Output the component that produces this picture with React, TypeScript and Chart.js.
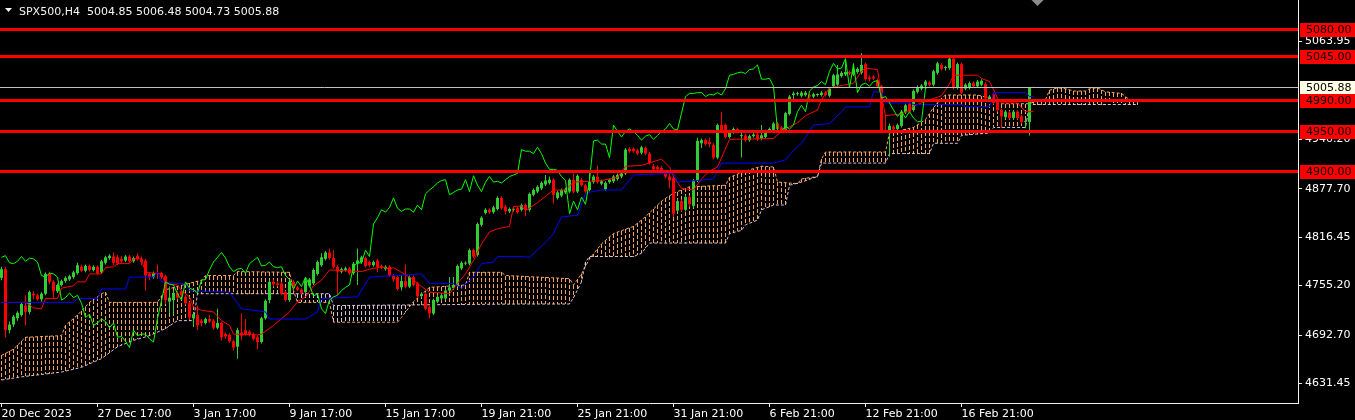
import { useEffect, useRef } from "react";
import { Chart, registerables } from "chart.js";

Chart.register(...registerables);

// SPX500 H4 candles, bar 0 = 20 Dec 2023
const opens = [
  4765, 4776, 4699, 4706, 4714, 4718, 4730, 4722, 4745, 4743,
  4738, 4745, 4770, 4760, 4748, 4756, 4761, 4763, 4766, 4771,
  4779, 4774, 4780, 4775, 4779, 4772, 4784, 4790, 4792, 4791,
  4789, 4787, 4792, 4786, 4793, 4789, 4787, 4770, 4766, 4771,
  4771, 4767, 4735, 4737, 4746, 4748, 4741, 4733, 4714, 4718,
  4711, 4708, 4713, 4711, 4702, 4708, 4694, 4693, 4685, 4678,
  4696, 4699, 4697, 4694, 4690, 4684, 4714, 4737, 4760, 4758,
  4758, 4747, 4737, 4760, 4753, 4750, 4747, 4755, 4758, 4770,
  4781, 4789, 4797, 4790, 4779, 4773, 4775, 4777, 4771, 4783,
  4785, 4790, 4785, 4781, 4787, 4780, 4776, 4779, 4768, 4766,
  4753, 4761, 4754, 4766, 4758, 4742, 4745, 4728, 4720, 4735,
  4739, 4739, 4749, 4752, 4756, 4777, 4783, 4783, 4800, 4794,
  4832, 4847, 4851, 4848, 4852, 4866, 4855, 4849, 4851, 4853,
  4851, 4857, 4851, 4870, 4874, 4878, 4883, 4885, 4889, 4866,
  4869, 4873, 4874, 4889, 4874, 4889, 4882, 4876, 4886, 4893,
  4884, 4877, 4886, 4887, 4890, 4893, 4897, 4928, 4928, 4926,
  4923, 4929, 4922, 4906, 4905, 4904, 4898, 4893, 4891, 4850,
  4862, 4851, 4867, 4856, 4888, 4935, 4939, 4937, 4933, 4917,
  4958, 4958, 4943, 4949, 4953, 4944, 4945, 4939, 4944, 4946,
  4941, 4943, 4950, 4952, 4960, 4955, 4952, 4972, 4996, 4997,
  4995, 4996, 4996, 4994, 4996, 4996, 4999, 4995, 5007, 5009,
  5020, 5022, 5025, 5022, 5025, 5024, 5035, 5018, 5019, 5015,
  5007, 4952, 4951, 4956, 4953, 4957, 4974, 4985, 4977, 5000,
  5004, 5008, 5012, 5009, 5024, 5034, 5030, 5030, 5042, 5005,
  5035, 5004, 5005, 5011, 5007, 5009, 5010, 4990, 4997, 4987,
  4977, 4968, 4974, 4967, 4975, 4969, 4962, 4962, 5004.85,
];

const highs = [
  4779, 4779, 4710, 4718, 4723, 4734, 4743, 4749, 4748, 4745,
  4747, 4772, 4773, 4762, 4758, 4763, 4767, 4769, 4774, 4784,
  4782, 4782, 4782, 4781, 4781, 4788, 4793, 4795, 4797, 4794,
  4793, 4794, 4794, 4792, 4796, 4792, 4789, 4772, 4773, 4782,
  4773, 4769, 4754, 4749, 4749, 4750, 4743, 4735, 4721, 4730,
  4713, 4715, 4718, 4713, 4726, 4710, 4696, 4695, 4687, 4702,
  4720, 4713, 4699, 4696, 4692, 4716, 4738, 4762, 4763, 4761,
  4760, 4749, 4762, 4762, 4755, 4752, 4765, 4765, 4777, 4787,
  4796, 4799, 4802, 4800, 4781, 4778, 4779, 4779, 4785, 4802,
  4793, 4792, 4787, 4787, 4789, 4782, 4781, 4781, 4770, 4768,
  4769, 4782, 4768, 4768, 4760, 4747, 4747, 4730, 4739, 4743,
  4745, 4751, 4766, 4766, 4782, 4786, 4786, 4802, 4802, 4835,
  4843, 4853, 4853, 4856, 4868, 4868, 4857, 4854, 4854, 4855,
  4859, 4859, 4873, 4878, 4882, 4887, 4895, 4893, 4891, 4875,
  4878, 4879, 4891, 4897, 4896, 4891, 4884, 4900, 4895, 4907,
  4889, 4887, 4891, 4895, 4897, 4899, 4929, 4930, 4930, 4928,
  4932, 4931, 4924, 4909, 4907, 4906, 4900, 4897, 4893, 4864,
  4864, 4869, 4869, 4890, 4942, 4941, 4941, 4942, 4935, 4960,
  4975, 4960, 4952, 4955, 4955, 4950, 4947, 4946, 4948, 4948,
  4958, 4952, 4955, 4962, 4962, 4957, 4975, 4996, 5000, 5000,
  5001, 5001, 4998, 4999, 4998, 5001, 5001, 5006, 5023, 5034,
  5026, 5040, 5027, 5036, 5031, 5049, 5037, 5021, 5021, 5017,
  5009, 4972, 4960, 4958, 4960, 4977, 4985, 4990, 5003, 5008,
  5010, 5015, 5014, 5028, 5038, 5036, 5033, 5044, 5046, 5037,
  5037, 5011, 5013, 5013, 5015, 5016, 5012, 4996, 4999, 4989,
  4979, 4977, 4976, 4977, 4977, 4971, 4965, 5006, 5006.48,
];

const lows = [
  4762, 4690, 4695, 4703, 4711, 4716, 4705, 4719, 4738, 4736,
  4735, 4743, 4757, 4739, 4746, 4754, 4759, 4761, 4764, 4769,
  4772, 4772, 4773, 4773, 4769, 4770, 4782, 4788, 4781, 4781,
  4784, 4785, 4784, 4784, 4787, 4781, 4749, 4762, 4764, 4764,
  4764, 4732, 4720, 4719, 4738, 4741, 4731, 4712, 4703, 4699,
  4704, 4706, 4708, 4700, 4700, 4686, 4688, 4683, 4673, 4663,
  4686, 4692, 4691, 4686, 4675, 4682, 4712, 4733, 4754, 4754,
  4743, 4735, 4735, 4750, 4748, 4744, 4745, 4753, 4756, 4768,
  4779, 4787, 4788, 4777, 4743, 4771, 4773, 4769, 4769, 4756,
  4783, 4778, 4779, 4779, 4772, 4776, 4774, 4766, 4760, 4749,
  4749, 4752, 4752, 4754, 4740, 4740, 4724, 4714, 4718, 4733,
  4737, 4737, 4747, 4750, 4754, 4775, 4781, 4781, 4790, 4792,
  4830, 4845, 4846, 4846, 4850, 4851, 4845, 4847, 4849, 4846,
  4849, 4843, 4849, 4868, 4872, 4876, 4881, 4883, 4859, 4864,
  4867, 4871, 4872, 4872, 4872, 4880, 4872, 4874, 4884, 4884,
  4882, 4875, 4884, 4885, 4888, 4891, 4895, 4923, 4923, 4920,
  4921, 4920, 4908, 4899, 4900, 4899, 4891, 4878, 4842, 4848,
  4849, 4849, 4855, 4854, 4886, 4929, 4932, 4930, 4915, 4915,
  4948, 4941, 4941, 4947, 4948, 4917, 4937, 4937, 4942, 4938,
  4939, 4941, 4948, 4950, 4951, 4950, 4949, 4970, 4990, 4995,
  4993, 4994, 4987, 4992, 4994, 4994, 4994, 4993, 5005, 5007,
  5018, 5020, 5021, 5020, 5023, 5022, 5014, 5013, 5015, 5005,
  4949, 4949, 4918, 4951, 4951, 4955, 4972, 4973, 4975, 4998,
  5002, 5006, 5007, 5007, 5022, 5027, 5027, 5028, 5003, 5003,
  4997, 5002, 5003, 5005, 5005, 5007, 4990, 4988, 4984, 4975,
  4954, 4966, 4965, 4965, 4965, 4960, 4954, 4945, 5004.73,
];

const closes = [
  4776, 4699, 4706, 4716, 4721, 4732, 4722, 4747, 4743, 4738,
  4745, 4770, 4760, 4748, 4756, 4761, 4765, 4767, 4772, 4781,
  4774, 4780, 4775, 4779, 4771, 4786, 4791, 4793, 4784, 4783,
  4786, 4792, 4786, 4790, 4789, 4785, 4768, 4766, 4771, 4770,
  4766, 4737, 4740, 4746, 4740, 4743, 4733, 4715, 4719, 4705,
  4708, 4713, 4710, 4702, 4708, 4690, 4691, 4685, 4677, 4699,
  4692, 4694, 4694, 4688, 4684, 4714, 4736, 4760, 4757, 4756,
  4745, 4737, 4760, 4752, 4750, 4746, 4762, 4763, 4775, 4785,
  4791, 4797, 4790, 4779, 4773, 4776, 4777, 4771, 4783, 4787,
  4791, 4780, 4781, 4785, 4779, 4778, 4779, 4768, 4763, 4751,
  4761, 4754, 4766, 4756, 4742, 4745, 4726, 4720, 4737, 4741,
  4743, 4749, 4753, 4756, 4780, 4784, 4784, 4800, 4792, 4833,
  4841, 4851, 4848, 4854, 4866, 4853, 4849, 4852, 4852, 4848,
  4857, 4851, 4871, 4876, 4880, 4885, 4888, 4889, 4870, 4873,
  4876, 4877, 4889, 4874, 4894, 4882, 4874, 4886, 4893, 4886,
  4887, 4885, 4889, 4893, 4895, 4897, 4927, 4925, 4925, 4922,
  4930, 4922, 4910, 4902, 4902, 4901, 4893, 4888, 4846, 4862,
  4851, 4867, 4858, 4888, 4938, 4939, 4934, 4934, 4917, 4958,
  4950, 4943, 4950, 4953, 4950, 4945, 4939, 4944, 4946, 4940,
  4945, 4950, 4953, 4960, 4953, 4952, 4973, 4994, 4998, 4998,
  4999, 4999, 4994, 4997, 4996, 4999, 4996, 5004, 5021, 5022,
  5024, 5025, 5023, 5028, 5029, 5034, 5016, 5016, 5017, 5007,
  4951, 4950, 4957, 4953, 4958, 4975, 4983, 4975, 5001, 5006,
  5008, 5013, 5009, 5026, 5036, 5029, 5030, 5042, 5005, 5035,
  4999, 5009, 5011, 5007, 5013, 5014, 4992, 4994, 4986, 4977,
  4969, 4975, 4967, 4975, 4967, 4962, 4963, 5004.9, 5005.88,
];

// Ichimoku lines, [bar, price] vertices
const tenkan = [
  [0, 4734], [6, 4734], [7, 4731], [8, 4727], [10, 4726], [11, 4739], [14, 4739], [15, 4752],
  [18, 4755], [19, 4760], [21, 4760], [22, 4770], [25, 4770], [26, 4778], [28, 4779], [29, 4783],
  [32, 4783], [33, 4789], [35, 4789], [36, 4772], [40, 4770], [41, 4758], [44, 4756], [45, 4749],
  [47, 4741], [48, 4728], [50, 4724], [53, 4722], [55, 4711], [57, 4705], [58, 4694], [64, 4693],
  [65, 4694], [68, 4705], [72, 4722], [74, 4735], [76, 4741], [78, 4755], [80, 4762], [82, 4775],
  [90, 4773], [92, 4776], [95, 4779], [97, 4776], [98, 4778], [102, 4766], [105, 4754], [107, 4747],
  [112, 4745], [114, 4758], [116, 4770], [118, 4787], [120, 4808], [122, 4823], [124, 4827], [127, 4830],
  [128, 4855], [130, 4856], [131, 4850], [134, 4860], [138, 4876], [141, 4876], [143, 4886], [150, 4888],
  [154, 4892], [156, 4906], [160, 4907], [165, 4915], [167, 4905], [168, 4893], [170, 4878], [173, 4876],
  [175, 4890], [177, 4900], [179, 4905], [182, 4940], [193, 4941], [195, 4950], [197, 4956], [199, 4961],
  [201, 4970], [204, 4977], [205, 4990], [207, 5005], [210, 5008], [213, 5011], [215, 5026], [216, 5030],
  [219, 5028], [220, 4995], [221, 4970], [225, 4972], [227, 4977], [228, 4982], [231, 4988], [235, 4995],
  [237, 5010], [238, 5021], [244, 5021], [245, 5017], [247, 5013], [248, 5003], [249, 4992], [250, 4986],
  [254, 4986], [256, 4975], [258, 4975],
];

const kijun = [
  [0, 4734], [18, 4734], [19, 4739], [24, 4739], [25, 4751], [31, 4751], [32, 4766], [38, 4766],
  [39, 4772], [40, 4760], [46, 4757], [47, 4749], [57, 4747], [60, 4726], [66, 4722], [67, 4713],
  [76, 4713], [79, 4722], [80, 4739], [89, 4741], [92, 4766], [105, 4770], [107, 4758], [113, 4758],
  [115, 4752], [118, 4766], [120, 4783], [123, 4785], [124, 4792], [130, 4792], [132, 4791], [136, 4810],
  [138, 4821], [140, 4842], [144, 4844], [146, 4872], [150, 4876], [155, 4876], [158, 4895], [168, 4897],
  [169, 4886], [174, 4888], [178, 4890], [180, 4910], [193, 4910], [196, 4914], [198, 4926], [200, 4935],
  [203, 4958], [207, 4960], [210, 4975], [211, 4981], [217, 4981], [218, 5000], [220, 5000], [221, 4986],
  [227, 4986], [228, 4984], [240, 4984], [241, 4981], [247, 4981], [248, 4999], [256, 4999], [257, 4994],
  [258, 4994],
];

const spanA = [
  [0, 4667], [3, 4675], [6, 4690], [15, 4692], [16, 4705], [19, 4718], [22, 4734], [25, 4745],
  [26, 4747], [27, 4734], [39, 4734], [41, 4750], [46, 4757], [50, 4762], [51, 4768], [58, 4768],
  [59, 4773], [72, 4772], [73, 4749], [74, 4734], [82, 4734], [83, 4709], [99, 4709], [100, 4715],
  [103, 4735], [107, 4753], [116, 4756], [117, 4772], [125, 4772], [126, 4768], [142, 4764], [143, 4756],
  [145, 4770], [147, 4789], [150, 4808], [153, 4821], [158, 4830], [160, 4838], [162, 4847], [165, 4862],
  [168, 4872], [172, 4880], [181, 4882], [182, 4892], [186, 4900], [190, 4906], [193, 4905], [194, 4886],
  [199, 4884], [200, 4890], [204, 4893], [205, 4915], [206, 4924], [221, 4924], [222, 4948], [228, 4955],
  [231, 4965], [233, 4980], [235, 4992], [236, 4996], [244, 4996], [247, 4992], [249, 4985], [257, 4985],
  [258, 4987], [261, 4990], [262, 5002], [264, 5005], [266, 5004], [268, 5001], [271, 5001], [272, 5004],
  [274, 5005], [276, 5000], [280, 4998], [282, 4990], [284, 4988],
];

const spanB = [
  [0, 4636], [5, 4640], [15, 4646], [20, 4652], [25, 4663], [29, 4678], [33, 4686], [37, 4692],
  [41, 4701], [44, 4711], [48, 4711], [49, 4745], [82, 4745], [83, 4730], [130, 4732], [142, 4732],
  [143, 4740], [145, 4760], [146, 4785], [147, 4792], [158, 4792], [160, 4796], [162, 4809], [181, 4809],
  [182, 4821], [185, 4825], [186, 4832], [189, 4838], [190, 4851], [193, 4857], [196, 4857], [197, 4882],
  [200, 4886], [204, 4893], [205, 4910], [221, 4910], [222, 4922], [232, 4922], [233, 4935], [239, 4935],
  [240, 4945], [247, 4948], [248, 4955], [256, 4955], [257, 4984], [284, 4984],
];

const chikouShift = 26;
const kumoEnd = 284;
const levels = [5080, 5045, 4990, 4950, 4900];
const bid = 5005.88;
const priceTicks = [5063.95, 4940.2, 4877.7, 4816.45, 4755.2, 4692.7, 4631.45];
const timeBars = [0, 24, 48, 72, 96, 120, 144, 168, 192, 216, 240];
const timeLabels = [
  "20 Dec 2023", "27 Dec 17:00", "3 Jan 17:00", "9 Jan 17:00", "15 Jan 17:00", "19 Jan 21:00",
  "25 Jan 21:00", "31 Jan 21:00", "6 Feb 21:00", "12 Feb 21:00", "16 Feb 21:00",
];
const title = "SPX500,H4  5004.85 5006.48 5004.73 5005.88";

const UP = "#32CD32";
const DOWN = "#FF0000";
const PEACH = "#F4A460";
const THISTLE = "#D8BFD8";
const AXIS = "#F0F0E0";
const FONT = '"DejaVu Sans", sans-serif';

const pts = (a: number[][]) => a.map(([x, y]) => ({ x, y }));

// value of a vertex polyline at bar i (what the line dataset draws there)
function lineAt(v: number[][], i: number) {
  for (let k = 1; k < v.length; k++) {
    if (i <= v[k][0]) {
      const [x0, y0] = v[k - 1];
      const [x1, y1] = v[k];
      return y0 + ((y1 - y0) * (i - x0)) / (x1 - x0);
    }
  }
  return v[v.length - 1][1];
}

const overlay = {
  id: "overlay",
  beforeDraw(chart: any) {
    const { ctx, width, height } = chart;
    ctx.save();
    ctx.fillStyle = "#000";
    ctx.fillRect(0, 0, width, height);
    ctx.restore();
  },
  beforeDatasetsDraw(chart: any) {
    // kumo: dotted vertical per bar between span A and span B
    const { ctx, chartArea: a } = chart;
    const x = chart.scales.x;
    const y = chart.scales.y;
    ctx.save();
    ctx.beginPath();
    ctx.rect(a.left, a.top, a.right - a.left, a.bottom - a.top);
    ctx.clip();
    for (let i = 0; i <= kumoEnd; i++) {
      const va = lineAt(spanA, i);
      const vb = lineAt(spanB, i);
      const px = Math.floor(x.getPixelForValue(i));
      const top = Math.round(y.getPixelForValue(Math.max(va, vb)));
      const bot = Math.round(y.getPixelForValue(Math.min(va, vb)));
      ctx.fillStyle = va >= vb ? PEACH : THISTLE;
      for (let py = top; py < bot; py += 6) {
        ctx.fillRect(px, py, 1, Math.min(4, bot - py));
      }
    }
    ctx.restore();
  },
  afterDatasetsDraw(chart: any) {
    const { ctx, chartArea: a } = chart;
    const y = chart.scales.y;
    ctx.save();
    ctx.beginPath();
    ctx.rect(a.left, a.top, a.right - a.left, a.bottom - a.top);
    ctx.clip();
    const yb = Math.round(y.getPixelForValue(bid)) + 0.5;
    ctx.strokeStyle = "#C0C0C0";
    ctx.lineWidth = 1;
    ctx.beginPath();
    ctx.moveTo(a.left, yb);
    ctx.lineTo(a.right, yb);
    ctx.stroke();
    ctx.strokeStyle = "#FF0000";
    ctx.lineWidth = 3;
    levels.forEach((lv) => {
      const py = Math.round(y.getPixelForValue(lv)) + 0.5;
      ctx.beginPath();
      ctx.moveTo(a.left, py);
      ctx.lineTo(a.right, py);
      ctx.stroke();
    });
    ctx.restore();
  },
  afterDraw(chart: any) {
    const { ctx, chartArea: a, width } = chart;
    const y = chart.scales.y;
    const x = chart.scales.x;
    ctx.save();
    ctx.font = "11px " + FONT;
    ctx.textBaseline = "middle";
    const tag = (v: number, bg: string) => {
      const py = Math.round(y.getPixelForValue(v));
      ctx.fillStyle = bg;
      ctx.fillRect(a.right + 2, py - 6, width - a.right - 2, 14);
      ctx.fillStyle = "#000";
      ctx.fillText(v.toFixed(2), a.right + 8, py + 1);
    };
    tag(bid, "#FFFFE6");
    levels.forEach((lv) => tag(lv, "#FF0000"));

    // header
    ctx.fillStyle = "#F4F4F4";
    ctx.textBaseline = "alphabetic";
    ctx.fillText(title, 19, 15);
    ctx.beginPath();
    ctx.moveTo(5, 8);
    ctx.lineTo(12, 8);
    ctx.lineTo(8.5, 12);
    ctx.closePath();
    ctx.fill();

    // chart shift marker
    const sx = x.getPixelForValue(closes.length);
    ctx.fillStyle = "#8C8C8C";
    ctx.beginPath();
    ctx.moveTo(sx - 6, 0);
    ctx.lineTo(sx + 6, 0);
    ctx.lineTo(sx, 6);
    ctx.closePath();
    ctx.fill();
    ctx.restore();
  },
};

export default function App() {
  const ref = useRef<HTMLCanvasElement>(null);

  useEffect(() => {
    document.body.style.margin = "0";
    document.body.style.background = "#000";
    if (!ref.current) return;

    const colors = closes.map((c, i) => (c >= opens[i] ? UP : DOWN));
    const bodies = closes.map((c, i) => ({ x: i, y: [opens[i], c] }));
    const wicks = closes.map((_, i) => ({ x: i, y: [lows[i], highs[i]] }));
    const chikou = closes.slice(chikouShift).map((c, i) => ({ x: i, y: c }));

    const chart = new Chart(ref.current, {
      type: "bar",
      data: {
        datasets: [
          {
            type: "line",
            data: pts(spanA),
            borderColor: PEACH,
            borderWidth: 1,
            borderDash: [3, 2],
            pointRadius: 0,
            tension: 0,
            fill: false,
            order: 10,
          },
          {
            type: "line",
            data: pts(spanB),
            borderColor: THISTLE,
            borderWidth: 1,
            borderDash: [3, 2],
            pointRadius: 0,
            tension: 0,
            fill: false,
            order: 9,
          },
          {
            data: wicks,
            backgroundColor: colors,
            barThickness: 1,
            grouped: false,
            inflateAmount: 0,
            borderWidth: 0,
            order: 8,
          },
          {
            data: bodies,
            backgroundColor: colors,
            barThickness: 3,
            grouped: false,
            inflateAmount: 0,
            minBarLength: 1,
            borderWidth: 0,
            order: 7,
          },
          {
            type: "line",
            data: pts(tenkan),
            borderColor: "#FF0000",
            borderWidth: 1,
            pointRadius: 0,
            tension: 0,
            fill: false,
            order: 3,
          },
          {
            type: "line",
            data: pts(kijun),
            borderColor: "#0000FF",
            borderWidth: 1,
            pointRadius: 0,
            tension: 0,
            fill: false,
            order: 2,
          },
          {
            type: "line",
            data: chikou,
            borderColor: "#00FF00",
            borderWidth: 1,
            pointRadius: 0,
            tension: 0,
            fill: false,
            order: 1,
          },
        ] as any,
      },
      options: {
        animation: false,
        responsive: false,
        devicePixelRatio: 1,
        events: [],
        layout: { padding: 0 },
        plugins: { legend: { display: false }, tooltip: { enabled: false } },
        scales: {
          x: {
            type: "linear",
            min: -0.375,
            max: 324.125,
            offset: false,
            bounds: "data",
            afterBuildTicks: (s: any) => {
              s.ticks = timeBars.map((v) => ({ value: v }));
            },
            afterFit: (s: any) => {
              s.height = 17;
              s.paddingLeft = 0;
              s.paddingRight = 0;
            },
            grid: { drawOnChartArea: false, drawTicks: true, tickLength: 4, color: AXIS, offset: false },
            border: { color: AXIS },
            ticks: {
              color: "#FFFFFF",
              font: { family: FONT, size: 11 },
              padding: 1,
              align: "start",
              maxRotation: 0,
              minRotation: 0,
              autoSkip: false,
              callback: (v: any) => {
                const k = timeBars.indexOf(Number(v));
                return k >= 0 ? timeLabels[k] : "";
              },
            },
          },
          y: {
            type: "linear",
            position: "right",
            min: 4606.95,
            max: 5116.0,
            bounds: "data",
            afterBuildTicks: (s: any) => {
              s.ticks = priceTicks.map((v) => ({ value: v }));
            },
            afterFit: (s: any) => {
              s.width = 57;
              s.paddingTop = 0;
              s.paddingBottom = 0;
            },
            grid: { drawOnChartArea: false, drawTicks: true, tickLength: 4, color: AXIS },
            border: { color: AXIS },
            ticks: {
              color: "#FFFFFF",
              font: { family: FONT, size: 11 },
              padding: 3,
              callback: (v: any) => Number(v).toFixed(2),
            },
          },
        },
      } as any,
      plugins: [overlay],
    });

    return () => chart.destroy();
  }, []);

  return (
    <div style={{ width: 1355, height: 420, background: "#000" }}>
      <canvas ref={ref} width={1355} height={420} style={{ display: "block" }} />
    </div>
  );
}
